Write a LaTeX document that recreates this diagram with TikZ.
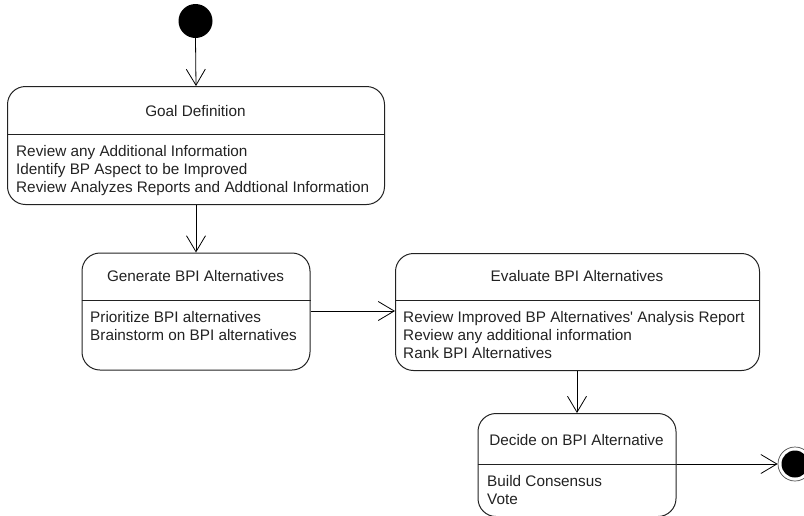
\documentclass[tikz,border=0pt]{standalone}
\usepackage{fontspec}
\setmainfont{Liberation Sans}
\usetikzlibrary{arrows.meta}
\definecolor{ink}{HTML}{222222}
\begin{document}
\begin{tikzpicture}[x=1pt,y=-1pt,
  font=\fontsize{15.3}{18}\selectfont,
  statebox/.style={draw=ink, line width=1pt, rounded corners=18pt,
    anchor=north west, inner sep=0pt},
  divider/.style={draw=ink, line width=1pt},
  title/.style={anchor=base, inner sep=0pt, text=ink},
  items/.style={anchor=north west, align=left, inner sep=0pt, text=ink},
  trans/.style={draw=black, line width=0.8pt,
    -{Straight Barb[length=16pt,width=19pt,line width=0.8pt]}}]
  \useasboundingbox (0,0) rectangle (804,515);

  % initial and final pseudo-states
  \node[circle, fill=black, minimum size=34pt, inner sep=0pt] (start) at (195.5,21) {};
  \node[circle, draw=black!70, line width=0.7pt, minimum size=34pt, inner sep=0pt] (final) at (795,464) {};
  \node[circle, fill=black, minimum size=27pt, inner sep=0pt] (finaldot) at (795,464) {};

  % Goal Definition
  \node[statebox, minimum width=377pt, minimum height=118pt] (goal) at (7,86) {};
  \coordinate (goaldiv) at (0,134);
  \draw[divider] (goal.west |- goaldiv) -- (goal.east |- goaldiv);
  \node[title] (goalT) at (195.5,116) {Goal Definition};
  \node[items] (goalI) at (16,145) {Review any Additional Information\\
    Identify BP Aspect to be Improved\\
    Review Analyzes Reports and Addtional Information};

  % Generate BPI Alternatives
  \node[statebox, minimum width=228pt, minimum height=117pt] (gen) at (81.5,252.5) {};
  \coordinate (gendiv) at (0,300.5);
  \draw[divider] (gen.west |- gendiv) -- (gen.east |- gendiv);
  \node[title] (genT) at (195.5,281) {Generate BPI Alternatives};
  \node[items] (genI) at (90,311) {Prioritize BPI alternatives\\
    Brainstorm on BPI alternatives};

  % Evaluate BPI Alternatives
  \node[statebox, minimum width=364pt, minimum height=117pt] (eval) at (395,253) {};
  \coordinate (evaldiv) at (0,300.5);
  \draw[divider] (eval.west |- evaldiv) -- (eval.east |- evaldiv);
  \node[title] (evalT) at (577,281) {Evaluate BPI Alternatives};
  \node[items] (evalI) at (403,311) {Review Improved BP Alternatives\textquotesingle{} Analysis Report\\
    Review any additional information\\
    Rank BPI Alternatives};

  % Decide on BPI Alternative
  \node[statebox, minimum width=198pt, minimum height=103pt] (decide) at (477.5,413) {};
  \coordinate (decidediv) at (0,464);
  \draw[divider] (decide.west |- decidediv) -- (decide.east |- decidediv);
  \node[title] (decideT) at (576.5,445) {Decide on BPI Alternative};
  \node[items] (decideI) at (487,475) {Build Consensus\\ Vote};

  % transitions
  \draw[trans] (start.south) -- (goal.north);
  \draw[trans] (goal.south) -- (gen.north);
  \coordinate (genrow) at (0,311);
  \draw[trans] (gen.east |- genrow) -- (eval.west |- genrow);
  \draw[trans] (eval.south -| decide.north) -- (decide.north);
  \draw[trans] (decide.east |- decidediv) -- (final.west);
\end{tikzpicture}
\end{document}
